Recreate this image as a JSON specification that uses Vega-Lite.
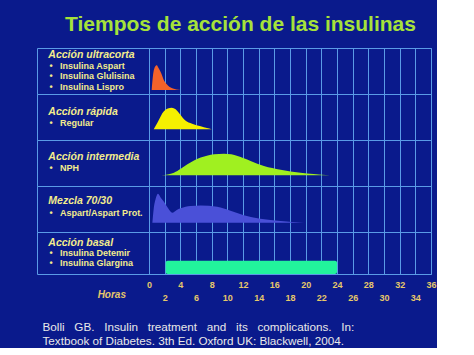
{
  "$schema": "https://vega.github.io/schema/vega-lite/v6.json",
  "background": "#0a1a8c",
  "padding": {"left": 36, "top": 13, "right": 0, "bottom": 0},
  "spacing": 0,
  "bounds": "flush",
  "title": {
    "text": "Tiempos de acción de las insulinas",
    "color": "#a6e23a",
    "fontSize": 21,
    "font": "Liberation Sans",
    "fontWeight": "bold",
    "anchor": "middle",
    "offset": 13,
    "dx": 4
  },
  "datasets": {
    "curves": [
      {"serie": "ultracorta", "h": 0.34, "v": 0},
      {"serie": "ultracorta", "h": 0.5, "v": 14},
      {"serie": "ultracorta", "h": 0.75, "v": 23},
      {"serie": "ultracorta", "h": 0.98, "v": 24.7},
      {"serie": "ultracorta", "h": 1.25, "v": 21.5},
      {"serie": "ultracorta", "h": 1.53, "v": 17.3},
      {"serie": "ultracorta", "h": 1.95, "v": 9},
      {"serie": "ultracorta", "h": 2.3, "v": 5.5},
      {"serie": "ultracorta", "h": 2.59, "v": 3.3},
      {"serie": "ultracorta", "h": 3.06, "v": 1.5},
      {"serie": "ultracorta", "h": 3.5, "v": 0.6},
      {"serie": "ultracorta", "h": 4.05, "v": 0},
      {"serie": "rapida", "h": 0.6, "v": 0},
      {"serie": "rapida", "h": 1.07, "v": 6.6},
      {"serie": "rapida", "h": 1.4, "v": 11.5},
      {"serie": "rapida", "h": 1.7, "v": 16},
      {"serie": "rapida", "h": 2.0, "v": 18.8},
      {"serie": "rapida", "h": 2.4, "v": 20.8},
      {"serie": "rapida", "h": 2.9, "v": 21.6},
      {"serie": "rapida", "h": 3.4, "v": 20},
      {"serie": "rapida", "h": 3.7, "v": 17.5},
      {"serie": "rapida", "h": 4.05, "v": 14},
      {"serie": "rapida", "h": 4.6, "v": 9},
      {"serie": "rapida", "h": 5.5, "v": 5.6},
      {"serie": "rapida", "h": 6.6, "v": 3},
      {"serie": "rapida", "h": 7.4, "v": 1.2},
      {"serie": "rapida", "h": 8.0, "v": 0},
      {"serie": "intermedia", "h": 1.58, "v": 0},
      {"serie": "intermedia", "h": 3.19, "v": 2.6},
      {"serie": "intermedia", "h": 4.05, "v": 6.5},
      {"serie": "intermedia", "h": 4.9, "v": 11},
      {"serie": "intermedia", "h": 5.8, "v": 15},
      {"serie": "intermedia", "h": 6.6, "v": 17.8},
      {"serie": "intermedia", "h": 7.5, "v": 19.8},
      {"serie": "intermedia", "h": 8.3, "v": 21},
      {"serie": "intermedia", "h": 9.57, "v": 21.6},
      {"serie": "intermedia", "h": 10.5, "v": 21},
      {"serie": "intermedia", "h": 11.3, "v": 19.3},
      {"serie": "intermedia", "h": 12.1, "v": 17},
      {"serie": "intermedia", "h": 12.97, "v": 14.3},
      {"serie": "intermedia", "h": 14.67, "v": 9.3},
      {"serie": "intermedia", "h": 16.8, "v": 5.6},
      {"serie": "intermedia", "h": 19.35, "v": 2.6},
      {"serie": "intermedia", "h": 21, "v": 1.2},
      {"serie": "intermedia", "h": 23.1, "v": 0},
      {"serie": "mezcla", "h": 0.43, "v": 0},
      {"serie": "mezcla", "h": 0.6, "v": 14},
      {"serie": "mezcla", "h": 0.85, "v": 24},
      {"serie": "mezcla", "h": 1.15, "v": 29},
      {"serie": "mezcla", "h": 1.5, "v": 25},
      {"serie": "mezcla", "h": 1.9, "v": 21},
      {"serie": "mezcla", "h": 2.4, "v": 15},
      {"serie": "mezcla", "h": 2.98, "v": 10},
      {"serie": "mezcla", "h": 3.5, "v": 12.5},
      {"serie": "mezcla", "h": 4.04, "v": 14.4},
      {"serie": "mezcla", "h": 5.3, "v": 16.6},
      {"serie": "mezcla", "h": 6.6, "v": 17.2},
      {"serie": "mezcla", "h": 8.7, "v": 16},
      {"serie": "mezcla", "h": 10.4, "v": 12},
      {"serie": "mezcla", "h": 12.1, "v": 7.4},
      {"serie": "mezcla", "h": 14.2, "v": 4},
      {"serie": "mezcla", "h": 16.8, "v": 1.7},
      {"serie": "mezcla", "h": 19.8, "v": 0}
    ],
    "basal": [
      {"serie": "basal", "h": 2.13, "h2": 24.0, "v": 0, "v2": 13.3}
    ]
  },
  "vconcat": [
    {
      "width": 394, "height": 46,
      "layer": [
        {
          "data": {"name": "curves"},
          "transform": [{"filter": "datum.serie == 'ultracorta'"}],
          "mark": {"type": "area", "color": "#f4622a", "interpolate": "monotone"},
          "encoding": {
            "x": {"field": "h", "type": "quantitative", "scale": {"domain": [-14.3, 36], "nice": false, "zero": false},
                  "axis": {"values": [0,2,4,6,8,10,12,14,16,18,20,22,24,26,28,30,32,34,36], "tickCount": 40, "title": null}},
            "y": {"field": "v", "type": "quantitative", "scale": {"domain": [-4, 42], "nice": false, "zero": false}, "axis": null}
          }
        },
        {
          "data": {"values": [{}]},
          "mark": {"type": "text", "text": "Acción ultracorta", "fontSize": 10.5, "fontWeight": "bold", "fontStyle": "italic"},
          "encoding": {"x": {"datum": -12.85, "type": "quantitative"}, "y": {"datum": 35, "type": "quantitative", "axis": null}}
        },
        {
          "data": {"values": [{}]},
          "mark": {"type": "text", "text": ["•\u00a0\u00a0\u00a0Insulina Aspart", "•\u00a0\u00a0\u00a0Insulina Glulisina", "•\u00a0\u00a0\u00a0Insulina Lispro"], "fontSize": 9, "fontWeight": "bold", "lineHeight": 10.3},
          "encoding": {"x": {"datum": -12.71, "type": "quantitative"}, "y": {"datum": 24, "type": "quantitative", "axis": null}}
        }
      ]
    },
    {
      "width": 394, "height": 46,
      "layer": [
        {
          "data": {"name": "curves"},
          "transform": [{"filter": "datum.serie == 'rapida'"}],
          "mark": {"type": "area", "color": "#f5f000", "interpolate": "monotone"},
          "encoding": {
            "x": {"field": "h", "type": "quantitative", "scale": {"domain": [-14.3, 36], "nice": false, "zero": false},
                  "axis": {"values": [0,2,4,6,8,10,12,14,16,18,20,22,24,26,28,30,32,34,36], "tickCount": 40, "title": null}},
            "y": {"field": "v", "type": "quantitative", "scale": {"domain": [-10.7, 35.3], "nice": false, "zero": false}, "axis": null}
          }
        },
        {
          "data": {"values": [{}]},
          "mark": {"type": "text", "text": "Acción rápida", "fontSize": 10.5, "fontWeight": "bold", "fontStyle": "italic"},
          "encoding": {"x": {"datum": -12.85, "type": "quantitative"}, "y": {"datum": 17.3, "type": "quantitative", "axis": null}}
        },
        {
          "data": {"values": [{}]},
          "mark": {"type": "text", "text": "•\u00a0\u00a0\u00a0Regular", "fontSize": 9, "fontWeight": "bold"},
          "encoding": {"x": {"datum": -12.71, "type": "quantitative"}, "y": {"datum": 6.3, "type": "quantitative", "axis": null}}
        }
      ]
    },
    {
      "width": 394, "height": 46,
      "layer": [
        {
          "data": {"name": "curves"},
          "transform": [{"filter": "datum.serie == 'intermedia'"}],
          "mark": {"type": "area", "color": "#a0f020", "interpolate": "monotone"},
          "encoding": {
            "x": {"field": "h", "type": "quantitative", "scale": {"domain": [-14.3, 36], "nice": false, "zero": false},
                  "axis": {"values": [0,2,4,6,8,10,12,14,16,18,20,22,24,26,28,30,32,34,36], "tickCount": 40, "title": null}},
            "y": {"field": "v", "type": "quantitative", "scale": {"domain": [-10.7, 35.3], "nice": false, "zero": false}, "axis": null}
          }
        },
        {
          "data": {"values": [{}]},
          "mark": {"type": "text", "text": "Acción intermedia", "fontSize": 10.5, "fontWeight": "bold", "fontStyle": "italic"},
          "encoding": {"x": {"datum": -12.85, "type": "quantitative"}, "y": {"datum": 18, "type": "quantitative", "axis": null}}
        },
        {
          "data": {"values": [{}]},
          "mark": {"type": "text", "text": "•\u00a0\u00a0\u00a0NPH", "fontSize": 9, "fontWeight": "bold"},
          "encoding": {"x": {"datum": -12.71, "type": "quantitative"}, "y": {"datum": 7.3, "type": "quantitative", "axis": null}}
        }
      ]
    },
    {
      "width": 394, "height": 46,
      "layer": [
        {
          "data": {"name": "curves"},
          "transform": [{"filter": "datum.serie == 'mezcla'"}],
          "mark": {"type": "area", "color": "#4a50d8", "interpolate": "monotone"},
          "encoding": {
            "x": {"field": "h", "type": "quantitative", "scale": {"domain": [-14.3, 36], "nice": false, "zero": false},
                  "axis": {"values": [0,2,4,6,8,10,12,14,16,18,20,22,24,26,28,30,32,34,36], "tickCount": 40, "title": null}},
            "y": {"field": "v", "type": "quantitative", "scale": {"domain": [-9.3, 36.7], "nice": false, "zero": false}, "axis": null}
          }
        },
        {
          "data": {"values": [{}]},
          "mark": {"type": "text", "text": "Mezcla 70/30", "fontSize": 10.5, "fontWeight": "bold", "fontStyle": "italic"},
          "encoding": {"x": {"datum": -12.85, "type": "quantitative"}, "y": {"datum": 21.7, "type": "quantitative", "axis": null}}
        },
        {
          "data": {"values": [{}]},
          "mark": {"type": "text", "text": "•\u00a0\u00a0\u00a0Aspart/Aspart Prot.", "fontSize": 9, "fontWeight": "bold"},
          "encoding": {"x": {"datum": -12.71, "type": "quantitative"}, "y": {"datum": 9.4, "type": "quantitative", "axis": null}}
        }
      ]
    },
    {
      "width": 394, "height": 42,
      "layer": [
        {
          "data": {"name": "basal"},
          "mark": {"type": "rect", "color": "#22f39c", "cornerRadius": 2},
          "encoding": {
            "x": {"field": "h", "type": "quantitative", "scale": {"domain": [-14.3, 36], "nice": false, "zero": false},
                  "axis": {
                    "values": [0,2,4,6,8,10,12,14,16,18,20,22,24,26,28,30,32,34,36],
                    "tickCount": 40,
                    "labels": true,
                    "labelExpr": "datum.value % 4 == 0 ? datum.label : ['', datum.label]",
                    "labelColor": "#e6c86a",
                    "labelFont": "Liberation Sans",
                    "labelFontWeight": "bold",
                    "labelFontSize": 9,
                    "labelBaseline": "top",
                    "labelLineHeight": 13,
                    "labelPadding": 6,
                    "labelOverlap": false,
                    "labelFlush": false,
                    "labelBound": false,
                    "title": ["Bolli \u00a0\u00a0GB. \u00a0\u00a0Insulin \u00a0\u00a0treatment \u00a0\u00a0and \u00a0\u00a0its \u00a0\u00a0complications. \u00a0\u00a0In:", "Textbook of Diabetes. 3th Ed. Oxford UK: Blackwell, 2004."],
                    "titleColor": "#e8e8e8",
                    "titleFont": "Liberation Sans",
                    "titleFontWeight": "normal",
                    "titleFontSize": 11.7,
                    "titleAlign": "left",
                    "titleAnchor": "start",
                    "titleBaseline": "alphabetic",
                    "titleLineHeight": 14,
                    "titleX": 5,
                    "titleY": 56
                  }},
            "x2": {"field": "h2"},
            "y": {"field": "v", "type": "quantitative", "scale": {"domain": [0, 42], "nice": false, "zero": false}, "axis": null},
            "y2": {"field": "v2"}
          }
        },
        {
          "data": {"values": [{}]},
          "mark": {"type": "text", "text": "Acción basal", "fontSize": 10.5, "fontWeight": "bold", "fontStyle": "italic"},
          "encoding": {"x": {"datum": -12.85, "type": "quantitative"}, "y": {"datum": 31.3, "type": "quantitative", "axis": null}}
        },
        {
          "data": {"values": [{}]},
          "mark": {"type": "text", "text": ["•\u00a0\u00a0\u00a0Insulina Detemir", "•\u00a0\u00a0\u00a0Insulina Glargina"], "fontSize": 9, "fontWeight": "bold", "lineHeight": 10},
          "encoding": {"x": {"datum": -12.71, "type": "quantitative"}, "y": {"datum": 21.3, "type": "quantitative", "axis": null}}
        },
        {
          "data": {"values": [{}]},
          "mark": {"type": "text", "text": "Horas", "fontSize": 10, "fontWeight": "bold", "fontStyle": "italic", "align": "center", "color": "#e6c86a"},
          "encoding": {"x": {"datum": -4.75, "type": "quantitative"}, "y": {"datum": -21, "type": "quantitative", "axis": null}}
        }
      ]
    }
  ],
  "config": {
    "font": "Liberation Sans",
    "concat": {"spacing": 0},
    "view": {"stroke": "#5a9be6", "strokeWidth": 1},
    "axisX": {
      "grid": true,
      "gridColor": "#5a9be6",
      "gridWidth": 1,
      "gridOpacity": 1,
      "tickCount": 40,
      "labels": false,
      "ticks": false,
      "tickSize": 0,
      "domain": false
    },
    "axisY": {"disable": true},
    "text": {"align": "left", "baseline": "middle", "color": "#f3ec8c", "font": "Liberation Sans"}
  }
}
